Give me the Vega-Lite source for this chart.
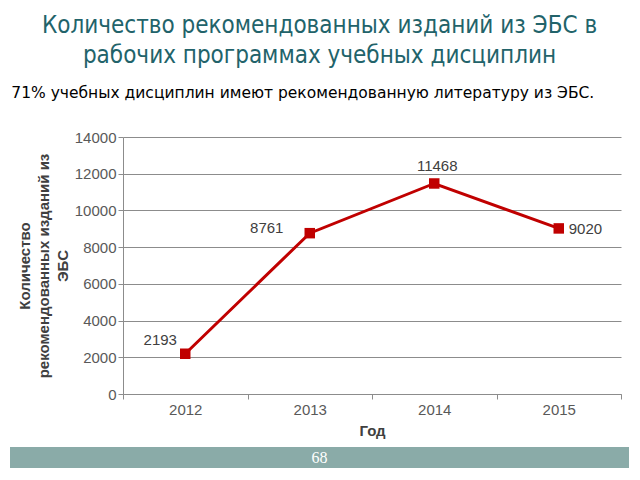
{
  "$schema": "https://vega.github.io/schema/vega-lite/v6.json",
  "background": "white",
  "padding": {"left": 10, "top": 13, "right": 0, "bottom": 0},
  "title": {
    "text": ["Количество рекомендованных изданий из ЭБС в", "рабочих программах учебных дисциплин"],
    "anchor": "middle",
    "frame": "bounds",
    "font": "DejaVu Sans Condensed",
    "fontSize": 24,
    "fontWeight": "normal",
    "color": "#22636a",
    "lineHeight": 30,
    "offset": 18
  },
  "config": {"view": {"stroke": null}, "font": "Liberation Sans"},
  "spacing": 9,
  "vconcat": [
    {
      "spacing": 0,
      "hconcat": [
        {
          "width": 1,
          "height": 1,
          "data": {"values": []},
          "mark": "point"
        },
        {
          "width": 498,
          "height": 257,
          "title": {
            "text": "71% учебных дисциплин имеют рекомендованную литературу из ЭБС.",
            "anchor": "start",
            "frame": "bounds",
            "dx": -6,
            "font": "DejaVu Sans",
            "fontSize": 15.5,
            "fontWeight": "normal",
            "color": "#000000",
            "offset": 29
          },
          "data": {"values": [
            {"year": 2012, "count": 2193},
            {"year": 2013, "count": 8761},
            {"year": 2014, "count": 11468},
            {"year": 2015, "count": 9020}
          ]},
          "encoding": {
            "x": {
              "field": "year", "type": "ordinal",
              "scale": {"type": "band", "paddingInner": 0, "paddingOuter": 0},
              "axis": {
                "title": "Год", "titleFont": "Liberation Sans", "titleFontSize": 15, "titleFontWeight": "bold",
                "titleColor": "#404040", "titlePadding": 6,
                "labelAngle": 0, "labelFont": "Liberation Sans", "labelFontSize": 15, "labelColor": "#595959", "labelPadding": 3,
                "tickBand": "extent", "tickSize": 5, "tickColor": "#8c8c8c", "domainColor": "#8c8c8c", "grid": false
              }
            },
            "y": {
              "field": "count", "type": "quantitative",
              "scale": {"domain": [0, 14000]},
              "axis": {
                "values": [0, 2000, 4000, 6000, 8000, 10000, 12000, 14000],
                "format": "d",
                "title": ["Количество", "рекомендованных изданий из", "ЭБС"],
                "titleFont": "Liberation Sans", "titleFontSize": 15, "titleFontWeight": "bold",
                "titleColor": "#404040", "titleLineHeight": 19, "titlePadding": 4,
                "labelFont": "Liberation Sans", "labelFontSize": 15, "labelColor": "#595959", "labelPadding": 2,
                "tickSize": 5, "tickColor": "#8c8c8c", "domainColor": "#8c8c8c",
                "grid": true, "gridColor": "#8c8c8c", "gridWidth": 1
              }
            }
          },
          "layer": [
            {"mark": {"type": "line", "color": "#c00000", "strokeWidth": 3}},
            {"mark": {"type": "point", "shape": "square", "filled": true, "color": "#c00000", "size": 110, "opacity": 1}},
            {
              "transform": [{"filter": "datum.year == 2012"}],
              "mark": {"type": "text", "font": "Liberation Sans", "fontSize": 15, "color": "#404040", "align": "center", "baseline": "middle", "dx": -25, "dy": -14},
              "encoding": {"text": {"field": "count"}}
            },
            {
              "transform": [{"filter": "datum.year == 2013"}],
              "mark": {"type": "text", "font": "Liberation Sans", "fontSize": 15, "color": "#404040", "align": "center", "baseline": "middle", "dx": -43, "dy": -5},
              "encoding": {"text": {"field": "count"}}
            },
            {
              "transform": [{"filter": "datum.year == 2014"}],
              "mark": {"type": "text", "font": "Liberation Sans", "fontSize": 15, "color": "#404040", "align": "center", "baseline": "middle", "dx": 3, "dy": -17},
              "encoding": {"text": {"field": "count"}}
            },
            {
              "transform": [{"filter": "datum.year == 2015"}],
              "mark": {"type": "text", "font": "Liberation Sans", "fontSize": 15, "color": "#404040", "align": "left", "baseline": "middle", "dx": 10, "dy": 1},
              "encoding": {"text": {"field": "count"}}
            }
          ]
        }
      ]
    },
    {
      "width": 619,
      "height": 21,
      "view": {"fill": "#8aaba8", "stroke": null},
      "data": {"values": [{"page": "68"}]},
      "mark": {"type": "text", "color": "white", "font": "Liberation Serif", "fontSize": 16, "baseline": "middle"},
      "encoding": {"text": {"field": "page"}}
    }
  ]
}
